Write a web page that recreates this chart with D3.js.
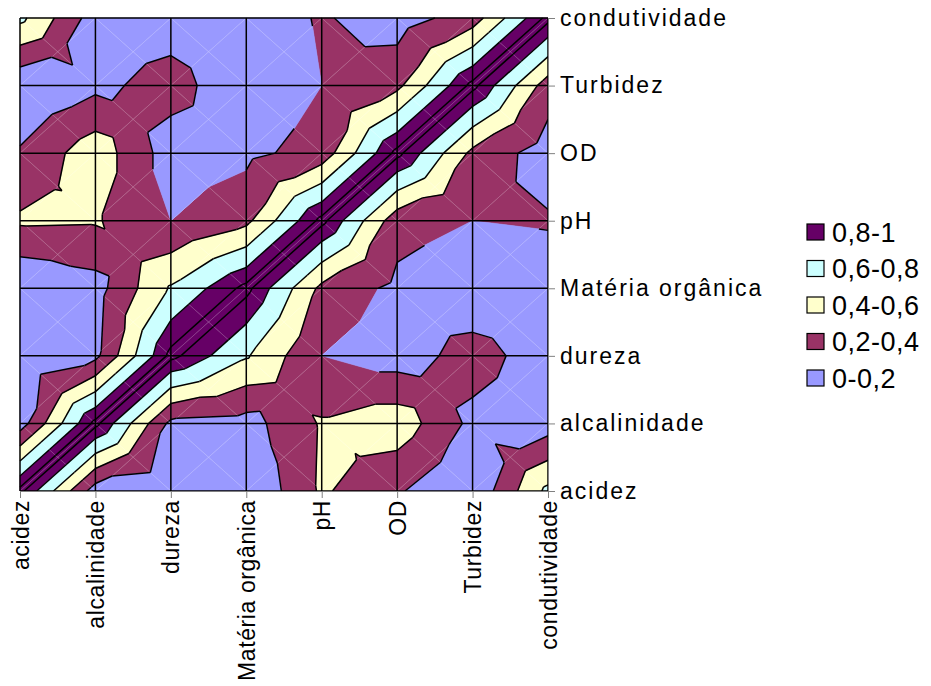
<!DOCTYPE html>
<html><head><meta charset="utf-8">
<script src="https://cdn.jsdelivr.net/npm/d3@7"></script>
<style>body{margin:0;background:#fff}</style></head>
<body><svg id="c" width="931" height="686"></svg>
<script>
const variables = ["acidez","alcalinidade","dureza","Matéria orgânica","pH","OD","Turbidez","condutividade"];
// upper triangle correlations r[i][j], i<j (matrix is symmetric, diagonal = 1)
const corrAcidez       = [0.10, 0.05, 0.00, 0.43, 0.22, 0.03, 0.65];
const corrAlcalinidade = [0.15, 0.12, 0.42, 0.52, 0.15, 0.10];
const corrDureza       = [0.62, 0.20, 0.10, 0.28, 0.10];
const corrMateria      = [0.35, 0.15, 0.05, 0.08];
const corrPH           = [0.28, 0.20, 0.22];
const corrOD           = [0.35, 0.10];
const corrTurbidez     = [0.30];
const bandLabels = ["0,8-1","0,6-0,8","0,4-0,6","0,2-0,4","0-0,2"];
const bandLo = [0.8,0.6,0.4,0.2,0];
const bandHi = [1.0001,0.8,0.6,0.4,0.2];
const bandColors = ["#660066","#CCFFFF","#FFFFCC","#993366","#9999FF"];

const rows=[corrAcidez,corrAlcalinidade,corrDureza,corrMateria,corrPH,corrOD,corrTurbidez];
const n=variables.length;
const M=d3.range(n).map(()=>d3.range(n).map(()=>1));
rows.forEach((r,i)=>r.forEach((v,k)=>{const j=i+1+k;M[i][j]=v;M[j][i]=v;}));

const svg=d3.select("#c");
const x=d3.scaleLinear().domain([0,n-1]).range([20,548]);
const y=d3.scaleLinear().domain([0,n-1]).range([491,18]);

const tris=[];
for(let i=0;i<n-1;i++)for(let j=0;j<n-1;j++){
  const a=[i,j,M[i][j]],b=[i+1,j,M[i+1][j]],c=[i+1,j+1,M[i+1][j+1]],d=[i,j+1,M[i][j+1]];
  const cv = i===j ? (a[2]+c[2])/2 : (a[2]+b[2]+c[2]+d[2])/4;
  const m=[i+.5,j+.5,cv];
  tris.push([a,b,m],[b,c,m],[c,d,m],[d,a,m]);
}
function clip(poly,t,keepAbove){
  const out=[];
  for(let k=0;k<poly.length;k++){
    const p=poly[k],q=poly[(k+1)%poly.length];
    const pin=keepAbove?p[2]>=t:p[2]<=t, qin=keepAbove?q[2]>=t:q[2]<=t;
    if(pin)out.push(p);
    if(pin!==qin){const s=(t-p[2])/(q[2]-p[2]);out.push([p[0]+s*(q[0]-p[0]),p[1]+s*(q[1]-p[1]),t]);}
  }
  return out;
}
const g=svg.append("g");
const line=d3.line().x(p=>x(p[0])).y(p=>y(p[1]));
bandLo.forEach((lo,bi)=>{
  tris.forEach(t=>{
    let p=clip(t,lo,true); if(p.length<3)return;
    p=clip(p,bandHi[bi],false); if(p.length<3)return;
    g.append("path").attr("d",line(p)+"Z").attr("fill",bandColors[bi]).attr("stroke",bandColors[bi]).attr("stroke-width",0.6);
  });
});
for(let i=0;i<n-1;i++)for(let j=0;j<n-1;j++){
  g.append("path").attr("d",line([[i,j],[i+1,j+1]])+line([[i+1,j],[i,j+1]]).replace("M"," M"))
   .attr("stroke","#fff").attr("stroke-opacity",0.3).attr("stroke-width",0.7).attr("fill","none");
}
[0.2,0.4,0.6,0.8,0.95].forEach(t=>{
  tris.forEach(tr=>{
    const pts=[];
    for(let k=0;k<3;k++){const p=tr[k],q=tr[(k+1)%3];
      if((p[2]-t)*(q[2]-t)<0){const s=(t-p[2])/(q[2]-p[2]);pts.push([p[0]+s*(q[0]-p[0]),p[1]+s*(q[1]-p[1])]);}}
    if(pts.length===2)g.append("path").attr("d",line(pts)).attr("stroke","#000").attr("stroke-width",1.5).attr("fill","none");
  });
});
for(let k=0;k<n;k++){
  g.append("line").attr("x1",x(k)).attr("x2",x(k)).attr("y1",y(0)).attr("y2",y(n-1)).attr("stroke","#000").attr("stroke-width",1.5);
  g.append("line").attr("y1",y(k)).attr("y2",y(k)).attr("x1",x(0)).attr("x2",x(n-1)).attr("stroke","#000").attr("stroke-width",1.5);
}
const font="Liberation Sans, Arial, sans-serif";
const ay=d3.axisRight(y).tickValues(d3.range(n)).tickFormat(i=>variables[i]).tickSize(7).tickPadding(5);
svg.append("g").attr("transform",`translate(${x(n-1)},0)`).call(ay)
  .call(s=>{s.select(".domain").attr("stroke","#808080");s.selectAll("line").attr("stroke","#808080");
    s.selectAll("text").attr("font-size",23).attr("letter-spacing",2).attr("font-family",font).attr("fill","#000");});
const ax=d3.axisBottom(x).tickValues(d3.range(n)).tickFormat(i=>variables[i]).tickSize(7).tickPadding(5);
svg.append("g").attr("transform",`translate(0,${y(0)})`).call(ax)
  .call(s=>{s.select(".domain").attr("stroke","#808080");s.selectAll("line").attr("stroke","#808080");
    s.selectAll("text").attr("font-size",23).attr("letter-spacing",0.6).attr("font-family",font).attr("fill","#000")
     .attr("transform","rotate(-90)").attr("text-anchor","end").attr("dy","0.35em").attr("x",-9).attr("y",0);});
const lg=svg.append("g").attr("transform","translate(807,232)");
bandLabels.forEach((l,k)=>{
  const r=lg.append("g").attr("transform",`translate(0,${k*36.5})`);
  r.append("rect").attr("x",0).attr("y",-8).attr("width",17).attr("height",16).attr("fill",bandColors[k]).attr("stroke","#000").attr("stroke-width",1.2);
  r.append("text").attr("x",25).attr("y",0).attr("dy","0.36em").attr("font-size",27).attr("letter-spacing",0.5).attr("font-family",font).text(l);
});
</script></body></html>
